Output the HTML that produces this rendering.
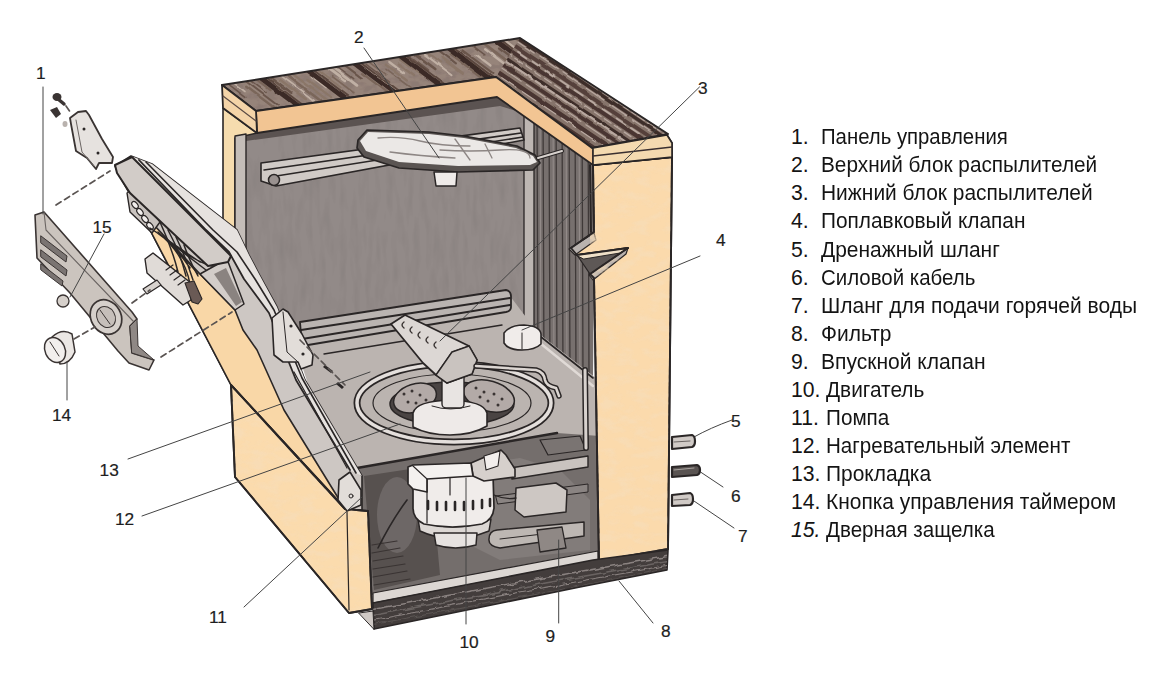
<!DOCTYPE html>
<html><head><meta charset="utf-8">
<style>
html,body{margin:0;padding:0;background:#fff;width:1170px;height:677px;overflow:hidden;position:relative}
svg{position:absolute;left:0;top:0}
.ln{position:absolute;font-family:"Liberation Sans",sans-serif;font-size:21.2px;line-height:28px;height:28px;color:#141414;white-space:nowrap;transform-origin:0 0}
</style></head><body>
<svg width="1170" height="677" viewBox="0 0 1170 677">
<defs>
<clipPath id="cpWood"><polygon points="222,85 520,38 668,134 592,148 496,77 256,111"/></clipPath>
<clipPath id="cpWoodL"><polygon points="222,85 520,38 532,46 496,77 256,111"/></clipPath>
<clipPath id="cpWoodR"><polygon points="520,38 668,134 592,148 496,77"/></clipPath>
<filter id="fBlot" x="0" y="0" width="100%" height="100%">
<feTurbulence type="fractalNoise" baseFrequency="0.09 0.14" numOctaves="3" seed="11"/>
<feColorMatrix type="matrix" values="0 0 0 0 0.26  0 0 0 0 0.19  0 0 0 0 0.17  4.5 0 0 0 -1.9"/>
</filter>
<clipPath id="cpRW"><polygon points="528,112 596,162 594,232 571,248 578,256 594,278 593,378 538,333 528,324"/></clipPath>
<clipPath id="cpBase"><polygon points="373,604 593,561 667,551 667,569 580,586 374,628"/></clipPath>
<filter id="fRough" x="-10%" y="-10%" width="120%" height="120%">
<feTurbulence type="fractalNoise" baseFrequency="0.12" numOctaves="2" seed="3" result="t"/>
<feDisplacementMap in="SourceGraphic" in2="t" scale="5" xChannelSelector="R" yChannelSelector="G"/>
</filter>
<filter id="fRough2" x="-10%" y="-10%" width="120%" height="120%">
<feTurbulence type="fractalNoise" baseFrequency="0.06" numOctaves="2" seed="5" result="t"/>
<feDisplacementMap in="SourceGraphic" in2="t" scale="3" xChannelSelector="R" yChannelSelector="G"/>
</filter>
<filter id="fNoise" x="0" y="0" width="100%" height="100%">
<feTurbulence type="fractalNoise" baseFrequency="0.15 0.03" numOctaves="2" seed="9"/>
<feColorMatrix type="matrix" values="0 0 0 0 0  0 0 0 0 0  0 0 0 0 0  0 0 0 0.6 -0.25"/>
</filter>
<filter id="fPeach" x="0" y="0" width="100%" height="100%">
<feTurbulence type="fractalNoise" baseFrequency="0.06 0.12" numOctaves="3" seed="21"/>
<feColorMatrix type="matrix" values="0 0 0 0 0.93  0 0 0 0 0.72  0 0 0 0 0.48  3.6 0 0 0 -1.6"/>
</filter>
<clipPath id="cpPanelR"><polygon points="593,165 672,157 668,549 599,561 594,279 589,274 628,248 576,255 569,249 594,232"/></clipPath>
<clipPath id="cpPeachL"><polygon points="231,385 235,477 349,613 372,609 368,511 345,509"/></clipPath>
</defs>
<g stroke-linejoin="round" stroke-linecap="round">

<!-- ===== interior back wall ===== -->
<polygon points="244,116 500,100 530,116 530,330 300,345 244,360" fill="#928a88"/>
<g opacity="0.18"><rect x="244" y="100" width="290" height="260" filter="url(#fNoise)"/></g>
<!-- back wall shadow under top strip -->
<polygon points="246,133 497,97 520,112 500,106 246,141" fill="#5b5351"/>
<!-- left frame strip -->
<polygon points="223,108 257,133 235,138 235,262 223,262" fill="#f6dcae" stroke="#2a2626" stroke-width="1.6"/>
<polygon points="235,136 246,134 246,270 235,266" fill="#c4bdb8" stroke="#2a2626" stroke-width="1.4"/>

<!-- ===== right inner wall (striped) ===== -->
<polygon points="526,112 596,162 594,232 571,248 578,256 594,278 593,378 538,333 526,324" fill="#77706e"/>
<g clip-path="url(#cpRW)" stroke="#3f3938" stroke-width="1.3">
<line x1="537" y1="100" x2="538" y2="380"/><line x1="543" y1="100" x2="544" y2="380"/>
<line x1="549" y1="100" x2="550" y2="380"/><line x1="556" y1="100" x2="557" y2="380"/>
<line x1="562" y1="100" x2="563" y2="380"/><line x1="569" y1="100" x2="570" y2="380"/>
<line x1="575" y1="100" x2="576" y2="380"/><line x1="582" y1="100" x2="583" y2="380"/>
<line x1="588" y1="100" x2="589" y2="380"/>
</g>
<g clip-path="url(#cpRW)" stroke="#938b89" stroke-width="1.1">
<line x1="540" y1="100" x2="541" y2="380"/><line x1="553" y1="100" x2="554" y2="380"/>
<line x1="566" y1="100" x2="567" y2="380"/><line x1="579" y1="100" x2="580" y2="380"/>
</g>
<polyline points="590,165 591,232" fill="none" stroke="#2a2626" stroke-width="2"/>
<!-- front pillar light strip -->
<polygon points="524,112 534,118 534,328 524,322" fill="#bdb6b2" stroke="#2a2626" stroke-width="1.3"/>

<!-- ===== upper rack & spray arm ===== -->
<polygon points="261,163 520,128 524,140 276,186 261,181" fill="#d0cac6" stroke="#2a2626" stroke-width="1.6"/>
<polyline points="264,170 521,133" fill="none" stroke="#2a2626" stroke-width="1.6"/>
<polyline points="270,177 523,137" fill="none" stroke="#2a2626" stroke-width="1.6"/>
<circle cx="274" cy="180" r="5.5" fill="#9a9290" stroke="#2a2626" stroke-width="1.5"/>
<polygon points="358,140 367,130 429,132 464,136 517,146 535,155 540,163 533,170 458,172 399,168 364,157 357,148" fill="#5a5452" stroke="#2a2626" stroke-width="1.7"/>
<polygon points="360,141 368,132 429,134 464,138 516,148 533,156 537,162 530,165 458,166 399,162 366,151" fill="#ebe8e6"/>
<g fill="none" stroke="#8d8684" stroke-width="1.3">
<path d="M378,138 Q400,136 420,141 T470,146"/><path d="M440,150 Q470,152 500,150 T530,158"/><path d="M390,152 Q420,156 455,158"/><path d="M455,139 L470,160"/><path d="M485,144 L492,158"/>
</g>
<polygon points="434,172 457,172 456,186 436,186" fill="#efebe9" stroke="#2a2626" stroke-width="1.5"/>
<polyline points="538,158 562,151" fill="none" stroke="#2a2626" stroke-width="4"/>
<polyline points="538,158 562,151" fill="none" stroke="#d8d2ce" stroke-width="2"/>

<!-- ===== tub floor ===== -->
<polygon points="290,330 510,296 538,333 596,378 600,436 356,470 320,420" fill="#bbb4b0"/>
<!-- lower rack rails -->
<path d="M300,322 L506,290 Q511,291 511,296 L511,307 Q511,311 506,312 L302,346 Z" fill="#bab4b1" stroke="#2a2626" stroke-width="1.8"/>
<polyline points="301,330 510,298" fill="none" stroke="#2a2626" stroke-width="2.2"/>
<polyline points="302,339 510,305" fill="none" stroke="#2a2626" stroke-width="2.2"/>
<polyline points="324,354 502,325" fill="none" stroke="#2a2626" stroke-width="1.4"/>
<!-- right wall bottom edge -->
<polyline points="536,333 593,378" fill="none" stroke="#2a2626" stroke-width="1.6"/>
<polyline points="540,343 593,386" fill="none" stroke="#e0dad6" stroke-width="2.5"/>

<!-- ring -->
<ellipse cx="454" cy="403" rx="97" ry="39" fill="none" stroke="#2a2626" stroke-width="7"/>
<ellipse cx="454" cy="403" rx="97" ry="39" fill="none" stroke="#e4dfdc" stroke-width="3.5"/>
<ellipse cx="452" cy="403" rx="79" ry="29" fill="none" stroke="#2a2626" stroke-width="1.2"/>
<!-- sump -->
<ellipse cx="452" cy="404" rx="62" ry="22" fill="#4a4443" stroke="#2a2626" stroke-width="1.5"/>
<!-- spray arm blobs -->
<ellipse cx="415" cy="398" rx="22" ry="14" transform="rotate(-18 415 398)" fill="#b3aaa7" stroke="#2a2626" stroke-width="1.5"/>
<ellipse cx="489" cy="396" rx="26" ry="15" transform="rotate(16 489 396)" fill="#b3aaa7" stroke="#2a2626" stroke-width="1.5"/>
<g fill="#3a3433"><circle cx="404" cy="394" r="1.5"/><circle cx="412" cy="391" r="1.5"/><circle cx="420" cy="395" r="1.5"/><circle cx="408" cy="402" r="1.5"/><circle cx="416" cy="403" r="1.5"/><circle cx="426" cy="400" r="1.5"/><circle cx="476" cy="388" r="1.5"/><circle cx="484" cy="392" r="1.5"/><circle cx="494" cy="394" r="1.5"/><circle cx="502" cy="399" r="1.5"/><circle cx="488" cy="401" r="1.5"/><circle cx="498" cy="405" r="1.5"/><circle cx="480" cy="397" r="1.5"/></g>
<!-- center cylinder -->
<path d="M413,413 Q416,401 450,400 Q484,401 487,413 L487,426 Q472,435 450,435 Q428,435 413,427 Z" fill="#eeeae8" stroke="#2a2626" stroke-width="1.6"/>
<path d="M432,406 Q450,412 470,406" fill="none" stroke="#2a2626" stroke-width="1"/>
<rect x="442" y="371" width="22" height="37" rx="4" fill="#e8e4e2" stroke="#2a2626" stroke-width="1.4"/>
<!-- spray head cone (3) -->
<polygon points="391,324 405,315 469,346 477,360 472,374 447,383 436,375 423,363" fill="#dcd7d4" stroke="#2a2626" stroke-width="1.8"/>
<polyline points="469,346 452,352 436,375" fill="none" stroke="#2a2626" stroke-width="1.3"/>
<polygon points="452,352 469,346 477,360 472,374 447,383 436,375" fill="#c9c3bf" stroke="#2a2626" stroke-width="1.4"/>
<g fill="none" stroke="#3a3433" stroke-width="1.4"><path d="M404,322 q-4,3 0,6"/><path d="M412,327 q-4,3 0,6"/><path d="M420,332 q-4,3 0,6"/><path d="M428,337 q-4,3 0,6"/><path d="M436,342 q-4,3 0,6"/></g>
<!-- float valve 4 -->
<path d="M504,333 Q510,325 524,325 Q540,326 541,334 L541,344 Q535,350 522,350 Q508,350 504,343 Z" fill="#f0ecea" stroke="#2a2626" stroke-width="1.6"/>
<polyline points="522,333 522,349" fill="none" stroke="#2a2626" stroke-width="1"/>
<!-- hose J -->
<path d="M476,366 L536,370 Q544,372 545,380 Q546,386 556,388 L559,396" fill="none" stroke="#2a2626" stroke-width="5.5"/>
<path d="M476,366 L536,370 Q544,372 545,380 Q546,386 556,388 L559,396" fill="none" stroke="#dcd6d2" stroke-width="2.5"/>

<!-- ===== lower compartment ===== -->
<polygon points="357,468 557,433 600,436 600,560 372,595" fill="#746e6c"/>
<polygon points="364,476 430,466 440,575 374,590" fill="#57514f"/>
<ellipse cx="397" cy="515" rx="20" ry="38" fill="#736d6b" opacity="0.8"/>
<g stroke="#3a3433" stroke-width="1.2"><path d="M372,545 l25,-4 M372,553 l28,-5 M373,561 l30,-5 M373,569 l32,-5 M373,577 l34,-6 M374,585 l36,-6"/></g>
<path d="M407,500 Q392,520 378,548" fill="none" stroke="#2a2626" stroke-width="1.6"/>
<polygon points="440,470 520,458 560,470 590,500 590,550 500,560 460,540" fill="#827c7a"/>
<polyline points="357,468 557,433" fill="none" stroke="#2a2626" stroke-width="2.5"/>
<!-- frame bars -->
<polygon points="540,440 580,436 586,450 548,455" fill="#7a7472" stroke="#2a2626" stroke-width="1.2"/>
<polygon points="510,468 588,456 588,467 512,479" fill="#c9c3bf" stroke="#2a2626" stroke-width="1.4"/>
<polygon points="496,496 588,484 588,492 498,504" fill="#8a8482" stroke="#2a2626" stroke-width="1"/>
<path d="M585,370 L586,448" fill="none" stroke="#2a2626" stroke-width="6"/>
<path d="M585,370 L586,448" fill="none" stroke="#d8d2ce" stroke-width="3"/>
<!-- motor 10 -->
<path d="M418,519 Q452,535 491,519 L489,531 Q452,546 420,531 Z" fill="#dcd7d4" stroke="#2a2626" stroke-width="1.5"/>
<path d="M434,533 L477,533 L476,545 Q455,551 436,545 Z" fill="#e6e2e0" stroke="#2a2626" stroke-width="1.5"/>
<path d="M413,476 L493,474 L494,508 Q493,520 482,524 Q452,530 424,524 Q413,519 413,508 Z" fill="#f0ecea" stroke="#2a2626" stroke-width="1.7"/>
<g stroke="#2a2626" stroke-width="2.6" fill="none"><path d="M428,501 v8 M437,502 v8 M446,502 v8 M455,502 v8 M464,502 v8 M473,501 v8 M482,500 v8 M490,499 v7"/></g>
<path d="M427,478 L427,523 M450,476 L450,495" fill="none" stroke="#2a2626" stroke-width="1.2"/>
<polygon points="471,463 501,450 506,455 515,469 515,477 484,481 473,476" fill="#d6d0cc" stroke="#2a2626" stroke-width="1.6"/>
<polygon points="484,456 500,451 498,466 486,470" fill="#f2eeec" stroke="#2a2626" stroke-width="1.1"/>
<polygon points="408,467 413,465 471,463 473,476 427,479 427,492 413,489 408,484" fill="#f4f1ef" stroke="#2a2626" stroke-width="1.7"/>
<path d="M413,466 L427,479" fill="none" stroke="#2a2626" stroke-width="1.1"/>
<!-- pump box -->
<polygon points="516,488 556,483 567,490 566,512 524,517 515,510" fill="#cdc7c3" stroke="#2a2626" stroke-width="1.5"/>
<path d="M494,495 Q505,500 516,498" fill="none" stroke="#2a2626" stroke-width="1.3"/>
<!-- valve pipe 9 -->
<path d="M497,530 L584,522 L584,536 L500,548 Q488,546 489,539 Q489,531 497,530 Z" fill="#bdb7b3" stroke="#2a2626" stroke-width="1.5"/>
<polyline points="500,539 560,532" fill="none" stroke="#2a2626" stroke-width="1"/>
<polygon points="537,530 562,527 566,548 540,552" fill="#8f8885" stroke="#2a2626" stroke-width="1.3"/>
<!-- light strip -->
<polygon points="373,593 598,551 598,560 373,603" fill="#dcd7d3" stroke="#2a2626" stroke-width="1.2"/>

<!-- ===== right side panel ===== -->
<polygon points="593,165 672,157 668,549 599,561 594,278 590,274 628,248 577,255 571,248 594,232" fill="#fbdaac" stroke="#2a2626" stroke-width="1.9"/>
<polygon points="577,255 628,248 590,274" fill="#5e5856" stroke="#2a2626" stroke-width="1.3"/>
<polygon points="594,233 569,249 575,255 596,240" fill="#b9b2ae" stroke="#2a2626" stroke-width="1.2"/>
<polygon points="576,255 628,248 620,253 584,259" fill="#efe0c8" stroke="#2a2626" stroke-width="1"/>
<polygon points="628,248 589,275 593,280 626,254" fill="#b9b2ae" stroke="#2a2626" stroke-width="1.2"/>
<g clip-path="url(#cpPanelR)" opacity="0.7"><rect x="590" y="150" width="90" height="420" filter="url(#fPeach)"/></g>
<polygon points="593,165 672,157 668,549 599,561 594,278 590,274 628,248 577,255 571,248 594,232" fill="none" stroke="#2a2626" stroke-width="1.9"/>

<!-- ===== base ===== -->
<polygon points="373,603 593,560 668,550 667,570 580,587 374,629" fill="#433d3c" stroke="#2a2626" stroke-width="1.6"/>
<g clip-path="url(#cpBase)" fill="none" filter="url(#fRough)">
<polyline points="370,610 520,582 670,556" stroke="#8a8280" stroke-width="1.4"/>
<polyline points="370,616 540,584 670,561" stroke="#6a6462" stroke-width="1.6"/>
<polyline points="370,621 520,592 670,565" stroke="#8a8280" stroke-width="1.2"/>
<polyline points="370,625 560,590 670,568" stroke="#5a5452" stroke-width="1.2"/>
</g>
<polygon points="359,613 373,611 374,629" fill="#cfc9c5" stroke="#2a2626" stroke-width="1"/>

<!-- ===== wood top ===== -->
<polygon points="222,85 520,38 668,134 592,148 496,77 256,111" fill="#9a8880"/>
<g clip-path="url(#cpWoodL)">
<rect x="200" y="30" width="330" height="90" fill="#96847a"/>
<rect x="200" y="30" width="330" height="90" filter="url(#fBlot)" opacity="0.85"/>
<g filter="url(#fRough2)">
<line x1="220.4" y1="83.8" x2="240.2" y2="98.7" stroke="#7a665a" stroke-width="1.6"/>
<line x1="225.1" y1="81.7" x2="245.8" y2="97.3" stroke="#6a564c" stroke-width="1.6"/>
<line x1="231.3" y1="81.2" x2="245.0" y2="91.5" stroke="#c0b0a4" stroke-width="1.6"/>
<line x1="246.2" y1="86.7" x2="280.9" y2="112.8" stroke="#7a665a" stroke-width="2.4"/>
<line x1="242.5" y1="78.8" x2="277.8" y2="105.5" stroke="#6a564c" stroke-width="1.9"/>
<line x1="251.2" y1="81.2" x2="266.0" y2="92.4" stroke="#6a564c" stroke-width="1.7"/>
<line x1="254.2" y1="77.7" x2="270.6" y2="90.1" stroke="#7a665a" stroke-width="2.3"/>
<line x1="267.6" y1="81.9" x2="291.4" y2="99.9" stroke="#8a7668" stroke-width="2.2"/>
<line x1="270.7" y1="77.3" x2="291.4" y2="92.8" stroke="#6a564c" stroke-width="2.5"/>
<line x1="280.1" y1="79.8" x2="305.9" y2="99.2" stroke="#8a7668" stroke-width="2.6"/>
<line x1="278.8" y1="74.1" x2="314.2" y2="100.8" stroke="#c0b0a4" stroke-width="1.7"/>
<line x1="289.0" y1="76.9" x2="323.3" y2="102.8" stroke="#7a665a" stroke-width="2.6"/>
<line x1="293.6" y1="74.6" x2="326.5" y2="99.5" stroke="#8a7668" stroke-width="2.4"/>
<line x1="308.3" y1="80.0" x2="331.2" y2="97.2" stroke="#8a7668" stroke-width="2.2"/>
<line x1="312.7" y1="77.2" x2="326.2" y2="87.4" stroke="#c0b0a4" stroke-width="1.9"/>
<line x1="307.4" y1="68.2" x2="335.4" y2="89.3" stroke="#c0b0a4" stroke-width="2.0"/>
<line x1="317.0" y1="69.5" x2="340.8" y2="87.5" stroke="#8a7668" stroke-width="1.7"/>
<line x1="332.4" y1="76.6" x2="353.8" y2="92.7" stroke="#7a665a" stroke-width="1.7"/>
<line x1="326.3" y1="66.9" x2="344.9" y2="80.9" stroke="#c0b0a4" stroke-width="2.8"/>
<line x1="335.0" y1="68.7" x2="356.9" y2="85.3" stroke="#c0b0a4" stroke-width="2.9"/>
<line x1="337.5" y1="66.5" x2="353.7" y2="78.7" stroke="#6a564c" stroke-width="1.5"/>
<line x1="345.7" y1="65.9" x2="362.0" y2="78.2" stroke="#6a564c" stroke-width="2.1"/>
<line x1="361.9" y1="73.1" x2="387.4" y2="92.4" stroke="#7a665a" stroke-width="2.2"/>
<line x1="365.0" y1="68.7" x2="399.8" y2="94.9" stroke="#c0b0a4" stroke-width="2.1"/>
<line x1="366.1" y1="64.4" x2="389.6" y2="82.1" stroke="#6a564c" stroke-width="1.6"/>
<line x1="370.0" y1="62.9" x2="385.8" y2="74.9" stroke="#7a665a" stroke-width="1.7"/>
<line x1="386.0" y1="69.3" x2="410.8" y2="88.0" stroke="#7a665a" stroke-width="1.6"/>
<line x1="385.8" y1="64.7" x2="406.8" y2="80.5" stroke="#8a7668" stroke-width="2.4"/>
<line x1="389.3" y1="62.0" x2="404.1" y2="73.1" stroke="#c0b0a4" stroke-width="2.2"/>
<line x1="398.7" y1="64.3" x2="414.2" y2="76.0" stroke="#8a7668" stroke-width="2.2"/>
<line x1="396.8" y1="56.7" x2="421.2" y2="75.1" stroke="#8a7668" stroke-width="1.7"/>
<line x1="408.1" y1="59.6" x2="420.8" y2="69.2" stroke="#7a665a" stroke-width="2.5"/>
<line x1="407.4" y1="54.5" x2="428.2" y2="70.1" stroke="#6a564c" stroke-width="2.3"/>
<line x1="415.4" y1="54.0" x2="435.3" y2="69.0" stroke="#6a564c" stroke-width="2.7"/>
<line x1="422.8" y1="52.9" x2="452.5" y2="75.3" stroke="#c0b0a4" stroke-width="2.0"/>
<line x1="427.7" y1="52.9" x2="440.4" y2="62.5" stroke="#8a7668" stroke-width="1.8"/>
<line x1="442.6" y1="58.3" x2="462.8" y2="73.5" stroke="#8a7668" stroke-width="2.9"/>
<line x1="438.8" y1="50.4" x2="456.0" y2="63.4" stroke="#6a564c" stroke-width="2.0"/>
<line x1="450.8" y1="54.1" x2="486.4" y2="80.9" stroke="#7a665a" stroke-width="2.2"/>
<line x1="449.0" y1="46.7" x2="480.2" y2="70.2" stroke="#7a665a" stroke-width="2.9"/>
<line x1="462.4" y1="50.3" x2="492.4" y2="72.9" stroke="#6a564c" stroke-width="2.2"/>
<line x1="476.5" y1="54.9" x2="490.5" y2="65.5" stroke="#c0b0a4" stroke-width="2.2"/>
<line x1="470.9" y1="44.4" x2="484.9" y2="54.9" stroke="#6a564c" stroke-width="1.5"/>
<line x1="485.2" y1="49.3" x2="508.3" y2="66.8" stroke="#c0b0a4" stroke-width="2.5"/>
<line x1="482.2" y1="42.2" x2="507.3" y2="61.1" stroke="#7a665a" stroke-width="2.7"/>
<line x1="499.0" y1="48.5" x2="513.4" y2="59.4" stroke="#6a564c" stroke-width="2.2"/>
<line x1="497.9" y1="40.8" x2="529.6" y2="64.8" stroke="#8a7668" stroke-width="1.8"/>
<line x1="505.7" y1="41.3" x2="536.0" y2="64.1" stroke="#c0b0a4" stroke-width="2.8"/>
<line x1="519.1" y1="47.5" x2="548.8" y2="69.9" stroke="#c0b0a4" stroke-width="2.7"/>
<line x1="514.7" y1="37.3" x2="529.8" y2="48.7" stroke="#7a665a" stroke-width="2.8"/>
<line x1="531.7" y1="43.7" x2="558.3" y2="63.7" stroke="#6a564c" stroke-width="1.8"/>
<line x1="254.0" y1="72.7" x2="317.9" y2="120.8" stroke="#3a2a25" stroke-width="5.1"/>
<line x1="260.0" y1="72.7" x2="323.9" y2="120.8" stroke="#5a463e" stroke-width="2"/>
<line x1="301.0" y1="65.2" x2="364.9" y2="113.4" stroke="#3a2a25" stroke-width="4.8"/>
<line x1="307.0" y1="65.2" x2="370.9" y2="113.4" stroke="#5a463e" stroke-width="2"/>
<line x1="348.0" y1="57.8" x2="411.9" y2="106.0" stroke="#3a2a25" stroke-width="4.5"/>
<line x1="354.0" y1="57.8" x2="417.9" y2="106.0" stroke="#5a463e" stroke-width="2"/>
<line x1="394.0" y1="50.5" x2="457.9" y2="98.7" stroke="#3a2a25" stroke-width="4.8"/>
<line x1="400.0" y1="50.5" x2="463.9" y2="98.7" stroke="#5a463e" stroke-width="2"/>
<line x1="442.0" y1="43.0" x2="505.9" y2="91.1" stroke="#3a2a25" stroke-width="4.8"/>
<line x1="448.0" y1="43.0" x2="511.9" y2="91.1" stroke="#5a463e" stroke-width="2"/>
<line x1="489.0" y1="35.5" x2="552.9" y2="83.7" stroke="#3a2a25" stroke-width="5.2"/>
<line x1="495.0" y1="35.5" x2="558.9" y2="83.7" stroke="#5a463e" stroke-width="2"/>
</g></g>
<g clip-path="url(#cpWoodR)">
<rect x="480" y="30" width="200" height="130" fill="#86746b"/>
<g filter="url(#fRough2)">
<line x1="468.9" y1="-88.2" x2="800.5" y2="135.5" stroke="#54403a" stroke-width="3.0"/>
<line x1="467.5" y1="-86.0" x2="799.1" y2="137.7" stroke="#b8a8a0" stroke-width="1.2" stroke-dasharray="9,4"/>
<line x1="464.6" y1="-81.7" x2="796.2" y2="142.0" stroke="#3e2d29" stroke-width="3.8"/>
<line x1="462.8" y1="-79.1" x2="794.4" y2="144.6" stroke="#b8a8a0" stroke-width="1.7" stroke-dasharray="24,6"/>
<line x1="460.0" y1="-74.9" x2="791.6" y2="148.8" stroke="#54403a" stroke-width="3.6"/>
<line x1="457.9" y1="-71.8" x2="789.5" y2="151.9" stroke="#b8a8a0" stroke-width="1.6" stroke-dasharray="15,7"/>
<line x1="455.1" y1="-67.6" x2="786.7" y2="156.1" stroke="#3e2d29" stroke-width="4.3"/>
<line x1="453.0" y1="-64.5" x2="784.6" y2="159.2" stroke="#b8a8a0" stroke-width="1.2" stroke-dasharray="11,9"/>
<line x1="450.8" y1="-61.3" x2="782.4" y2="162.4" stroke="#3e2d29" stroke-width="2.9"/>
<line x1="449.0" y1="-58.7" x2="780.7" y2="165.0" stroke="#b8a8a0" stroke-width="1.3" stroke-dasharray="17,4"/>
<line x1="445.9" y1="-54.0" x2="777.5" y2="169.6" stroke="#54403a" stroke-width="3.1"/>
<line x1="444.0" y1="-51.2" x2="775.6" y2="172.5" stroke="#b8a8a0" stroke-width="1.4" stroke-dasharray="16,5"/>
<line x1="440.9" y1="-46.6" x2="772.5" y2="177.0" stroke="#3e2d29" stroke-width="3.2"/>
<line x1="439.2" y1="-44.1" x2="770.8" y2="179.6" stroke="#b8a8a0" stroke-width="1.6" stroke-dasharray="29,6"/>
<line x1="437.1" y1="-40.9" x2="768.7" y2="182.8" stroke="#54403a" stroke-width="3.5"/>
<line x1="435.3" y1="-38.3" x2="766.9" y2="185.3" stroke="#b8a8a0" stroke-width="1.5" stroke-dasharray="19,8"/>
<line x1="433.3" y1="-35.3" x2="764.9" y2="188.3" stroke="#4a3631" stroke-width="3.4"/>
<line x1="431.4" y1="-32.6" x2="763.1" y2="191.1" stroke="#b8a8a0" stroke-width="1.5" stroke-dasharray="8,9"/>
<line x1="429.2" y1="-29.3" x2="760.8" y2="194.4" stroke="#54403a" stroke-width="3.9"/>
<line x1="427.0" y1="-26.0" x2="758.6" y2="197.7" stroke="#b8a8a0" stroke-width="1.1" stroke-dasharray="15,4"/>
<line x1="425.5" y1="-23.7" x2="757.1" y2="200.0" stroke="#3e2d29" stroke-width="3.3"/>
<line x1="423.8" y1="-21.3" x2="755.4" y2="202.4" stroke="#b8a8a0" stroke-width="1.2" stroke-dasharray="21,7"/>
<line x1="421.2" y1="-17.5" x2="752.9" y2="206.2" stroke="#54403a" stroke-width="3.7"/>
<line x1="419.4" y1="-14.7" x2="751.0" y2="209.0" stroke="#b8a8a0" stroke-width="1.8" stroke-dasharray="10,7"/>
<line x1="417.5" y1="-12.0" x2="749.1" y2="211.7" stroke="#4a3631" stroke-width="4.0"/>
<line x1="415.4" y1="-8.8" x2="747.0" y2="214.9" stroke="#b8a8a0" stroke-width="1.3" stroke-dasharray="8,4"/>
<line x1="412.8" y1="-4.9" x2="744.4" y2="218.8" stroke="#3e2d29" stroke-width="2.9"/>
<line x1="411.3" y1="-2.8" x2="742.9" y2="220.9" stroke="#b8a8a0" stroke-width="2.0" stroke-dasharray="22,3"/>
<line x1="408.7" y1="1.2" x2="740.3" y2="224.9" stroke="#4a3631" stroke-width="3.7"/>
<line x1="406.8" y1="4.0" x2="738.4" y2="227.7" stroke="#b8a8a0" stroke-width="1.1" stroke-dasharray="30,6"/>
<line x1="403.7" y1="8.5" x2="735.3" y2="232.2" stroke="#4a3631" stroke-width="4.4"/>
<line x1="402.3" y1="10.6" x2="733.9" y2="234.3" stroke="#b8a8a0" stroke-width="1.2" stroke-dasharray="17,7"/>
<line x1="399.3" y1="15.0" x2="731.0" y2="238.7" stroke="#4a3631" stroke-width="3.1"/>
<line x1="397.5" y1="17.7" x2="729.1" y2="241.4" stroke="#b8a8a0" stroke-width="1.2" stroke-dasharray="19,3"/>
<line x1="394.3" y1="22.4" x2="725.9" y2="246.1" stroke="#3e2d29" stroke-width="2.9"/>
<line x1="392.3" y1="25.4" x2="723.9" y2="249.1" stroke="#b8a8a0" stroke-width="1.7" stroke-dasharray="14,10"/>
<line x1="390.3" y1="28.3" x2="722.0" y2="252.0" stroke="#54403a" stroke-width="3.6"/>
<line x1="388.3" y1="31.4" x2="719.9" y2="255.1" stroke="#b8a8a0" stroke-width="1.5" stroke-dasharray="23,9"/>
<line x1="385.4" y1="35.7" x2="717.0" y2="259.4" stroke="#3e2d29" stroke-width="3.3"/>
<line x1="383.1" y1="39.0" x2="714.7" y2="262.7" stroke="#b8a8a0" stroke-width="1.4" stroke-dasharray="30,5"/>
<line x1="381.2" y1="42.0" x2="712.8" y2="265.6" stroke="#3e2d29" stroke-width="3.4"/>
<line x1="379.1" y1="45.1" x2="710.7" y2="268.8" stroke="#b8a8a0" stroke-width="1.0" stroke-dasharray="28,7"/>
</g></g>
<polygon points="222,85 520,38 668,134 592,148 496,77 256,111" fill="none" stroke="#2a2626" stroke-width="2"/>
<!-- top peach strip -->
<polygon points="256,111 496,77 592,148 667,135 672,143 672,157 593,165 497,97 257,133" fill="#f2c593" stroke="#2a2626" stroke-width="1.8"/>
<polyline points="593,150 593,165" fill="none" stroke="#2a2626" stroke-width="1.5"/>
<polygon points="593,148 667,135 672,143 672,157 593,165" fill="#f4dab0" stroke="#2a2626" stroke-width="1.6"/>
<polyline points="593,156 672,147" fill="none" stroke="#3a3030" stroke-width="1.4"/>
<polygon points="222,85 256,111 257,133 223,108" fill="#f4d4a8" stroke="#2a2626" stroke-width="1.8"/>
<polyline points="223,96 256,121" fill="none" stroke="#5a4a44" stroke-width="1.2"/>

<!-- ===== door ===== -->
<polygon points="131,156 152,164 237,230 249,255 259,274 277,307 305,380 362,476 362,510 345,510 231,385 150,230 118,173 115,166" fill="#cdc7c3" stroke="#2a2626" stroke-width="1.6"/>
<!-- door frame lines -->
<polygon points="131,156 152,164 237,230 249,255 259,274 277,307 305,380 362,476 350,470 296,380 269,313 244,279 229,252 206,230" fill="#e6e2df"/>
<polyline points="139,160 206,230 229,252 244,279 269,313 296,380 350,470" fill="none" stroke="#2a2626" stroke-width="1.8"/>
<polyline points="146,162 213,230 237,252 255,279 274,310 302,378 356,473" fill="none" stroke="#2a2626" stroke-width="1.6"/>
<polyline points="294,372 347,468" fill="none" stroke="#2a2626" stroke-width="1.2"/>
<!-- door side peach band -->
<polygon points="138,208 200,274 235,310 243,330 257,350 284,410 345,509 231,385 150,230" fill="#f9d7a7" stroke="#2a2626" stroke-width="1.6"/>
<!-- door under-bar box -->
<polygon points="200,274 227,259 244,304 235,310" fill="#d3cdc9" stroke="#2a2626" stroke-width="1.5"/>
<polygon points="214,274 226,268 242,302 236,306" fill="#8a8380"/>
<!-- lower peach block -->
<polygon points="231,385 235,477 349,613 372,609 368,511 345,509" fill="#fbdbad" stroke="#2a2626" stroke-width="1.9"/>
<g clip-path="url(#cpPeachL)" opacity="0.7"><rect x="225" y="380" width="150" height="240" filter="url(#fPeach)"/></g>
<polygon points="231,385 235,477 349,613 372,609 368,511 345,509" fill="none" stroke="#2a2626" stroke-width="1.9"/>
<polyline points="231,385 346,509" fill="none" stroke="#2a2626" stroke-width="1.7"/>
<polyline points="347,512 349,610" fill="none" stroke="#2a2626" stroke-width="1.2"/>
<!-- dashes on peach -->

<!-- hinge brackets -->
<polygon points="272,318 283,309 288,312 302,334 313,355 312,365 301,369 298,362 283,362 274,355" fill="#e2ddd9" stroke="#2a2626" stroke-width="1.6"/>
<polyline points="283,312 287,352 298,362" fill="none" stroke="#2a2626" stroke-width="1"/>
<circle cx="291" cy="326" r="1.6" fill="#2a2626"/><circle cx="303" cy="354" r="1.6" fill="#2a2626"/>
<polygon points="339,480 350,472 361,490 361,505 347,511 338,500" fill="#e2ddd9" stroke="#2a2626" stroke-width="1.6"/>
<circle cx="351" cy="496" r="2" fill="none" stroke="#2a2626" stroke-width="1"/>
<!-- small screws on floor near door -->
<g fill="#2a2626"><path d="M325,365 l8,6 l-2,2 l-8,-6z"/><path d="M338,382 l6,5 l-2,2 l-6,-5z"/></g>
<!-- ribbed part & latch & wires -->
<polygon points="127,193 135,188 160,222 152,233 130,212" fill="#c9c3bf" stroke="#2a2626" stroke-width="1.4"/>
<g fill="#f2eeec" stroke="#2a2626" stroke-width="1.2"><ellipse cx="135" cy="205" rx="2.5" ry="4" transform="rotate(-40 135 205)"/><ellipse cx="140" cy="212" rx="2.5" ry="4" transform="rotate(-40 140 212)"/><ellipse cx="145" cy="219" rx="2.5" ry="4" transform="rotate(-40 145 219)"/><ellipse cx="150" cy="226" rx="2.5" ry="4" transform="rotate(-40 150 226)"/></g>
<path d="M150,228 Q175,245 200,262 M156,232 Q180,250 206,270 M162,236 Q185,258 198,274 M170,244 Q186,262 190,284 M176,246 Q196,262 212,266" fill="none" stroke="#2a2626" stroke-width="1.4"/>
<polygon points="145,259 153,253 191,283 191,300 183,305 147,273" fill="#e0dbd7" stroke="#2a2626" stroke-width="1.4"/>
<g stroke="#2a2626" stroke-width="1.2" fill="none"><path d="M166,270 l7,-5 M170,275 l7,-5 M174,280 l7,-5 M178,285 l7,-5"/></g>
<path d="M143,289 l14,-9 l4,5 l-14,9 z" fill="#d8d3cf" stroke="#2a2626" stroke-width="1.2"/>
<path d="M185,283 l9,-2 l8,18 l-4,5 l-6,-2 z" fill="#6a5a55" stroke="#2a2626" stroke-width="1.1"/>

<!-- control bar -->
<polygon points="115,165 132,157 231,256 228,262 208,266 130,193 117,173" fill="#d2ccc8" stroke="#2a2626" stroke-width="2"/>
<path d="M160,222 Q172,248 178,272 M168,230 Q180,252 186,276 M176,237 Q186,258 193,280 M184,245 Q190,262 198,276 M158,232 Q175,246 190,268" fill="none" stroke="#2a2626" stroke-width="1.5"/>
<!-- ===== exploded parts ===== -->
<!-- front panel 1 -->
<polygon points="35,215 44,212 132,312 137,319 130,326 132,353 154,360 149,370 129,363 118,351 70,293 37,258" fill="#cbc4be" stroke="#3a3433" stroke-width="1.6"/>
<polyline points="44,212 46,230 134,322" fill="none" stroke="#6a6462" stroke-width="1.1"/>
<polygon points="130,326 137,319 138,346 154,360 132,353" fill="#8f8885" stroke="#3a3433" stroke-width="1"/>
<g fill="#7a7472" stroke="#3a3433" stroke-width="1"><path d="M41,236 l26,20 l-1,6 l-25,-19 z"/><path d="M41,250 l26,20 l-1,6 l-25,-19 z"/><path d="M41,264 l22,17 l-1,5 l-21,-16 z"/></g>
<ellipse cx="106" cy="317" rx="15" ry="18" transform="rotate(-30 106 317)" fill="#d6d0cb" stroke="#3a3433" stroke-width="1.7"/>
<ellipse cx="106" cy="317" rx="9" ry="11" transform="rotate(-30 106 317)" fill="#c6bfba" stroke="#3a3433" stroke-width="1"/>
<path d="M100,310 l10,14" stroke="#3a3433" stroke-width="1"/>
<ellipse cx="63" cy="301" rx="6" ry="6" fill="#d6d0cb" stroke="#3a3433" stroke-width="1.3"/>
<!-- knob 14 -->
<path d="M52,337 Q62,328 72,334 L75,352 Q70,364 60,364 Z" fill="#ebe7e4" stroke="#3a3433" stroke-width="1.5"/>
<ellipse cx="55" cy="350" rx="10" ry="13" transform="rotate(-25 55 350)" fill="#f2efed" stroke="#3a3433" stroke-width="1.5"/>
<path d="M50,342 l9,14" stroke="#3a3433" stroke-width="1"/>
<!-- bracket -->
<polygon points="70,118 78,112 86,111 89,115 102,139 113,157 112,163 99,163 96,169 87,158 76,151 71,124" fill="#e6e2df" stroke="#3a3433" stroke-width="1.8"/>
<polyline points="76,120 82,152 94,166" fill="none" stroke="#6a6462" stroke-width="1"/>
<circle cx="84" cy="129" r="1.5" fill="#2a2626"/><circle cx="98" cy="153" r="1.5" fill="#2a2626"/>
<!-- screws -->
<ellipse cx="57" cy="97" rx="4.5" ry="4" fill="#3a3433"/><path d="M58,99 L64,104" stroke="#3a3433" stroke-width="3.5"/>
<path d="M50,110 L57,107 L61,114 L56,118 Z" fill="#3a3433"/><ellipse cx="65" cy="124" rx="2.5" ry="3" fill="#b9b2ae"/>
<!-- dashes -->
<g stroke="#5a5452" stroke-width="1.7" stroke-dasharray="6,4" fill="none">
<line x1="66" y1="106" x2="71" y2="113"/>
<line x1="56" y1="205" x2="110" y2="171"/>
<line x1="74" y1="339" x2="95" y2="327"/>
<line x1="132" y1="303" x2="150" y2="290"/>
<line x1="161" y1="357" x2="232" y2="312"/>
<line x1="300" y1="340" x2="345" y2="385"/>
</g>

<!-- ===== leader lines ===== -->
<g stroke="#444" stroke-width="1" fill="none">
<line x1="43" y1="87" x2="43" y2="214"/>
<line x1="364" y1="48" x2="439" y2="158"/>
<line x1="699.5" y1="87" x2="440" y2="341"/>
<line x1="700" y1="256" x2="522" y2="330"/>
<path d="M732,420 Q710,428 694,437"/>
<line x1="723" y1="487" x2="699" y2="471"/>
<line x1="734" y1="528" x2="691" y2="499"/>
<line x1="619" y1="581" x2="653" y2="623"/>
<line x1="558.7" y1="540" x2="558.7" y2="623"/>
<line x1="466" y1="478" x2="466" y2="624"/>
<line x1="244" y1="607" x2="362" y2="497"/>
<line x1="142" y1="516" x2="400" y2="424"/>
<line x1="128" y1="459" x2="370" y2="372"/>
<line x1="67" y1="362" x2="67" y2="400"/>
<line x1="104" y1="234" x2="70" y2="297"/>
</g>
<!-- pipes 5 6 7 -->
<path d="M672,437 L692,435 Q695,436 695,441 Q695,446 692,447 L672,449 Z" fill="#d0cac6" stroke="#2a2626" stroke-width="2.2"/>
<path d="M674,442 L690,441" stroke="#6a6462" stroke-width="1"/>
<path d="M672,467 L697,465 Q700,466 700,470 Q700,474 697,475 L672,477 Z" fill="#5a5452" stroke="#2a2626" stroke-width="2.2"/>
<path d="M674,470 L694,468" stroke="#a8a29e" stroke-width="1"/>
<path d="M672,495 L690,493 Q693,494 693,499 Q693,504 690,505 L672,506 Z" fill="#d0cac6" stroke="#2a2626" stroke-width="2.2"/>
<path d="M674,500 L688,499" stroke="#6a6462" stroke-width="1"/>

<!-- ===== labels ===== -->
<g font-family="Liberation Sans, sans-serif" font-size="17.3" fill="#1e1e1e" stroke="#1e1e1e" stroke-width="0.2">
<text x="36" y="79">1</text>
<text x="354" y="42.6">2</text>
<text x="698" y="93.6">3</text>
<text x="716" y="246">4</text>
<text x="731" y="427">5</text>
<text x="731" y="501.6">6</text>
<text x="738" y="541.7">7</text>
<text x="661" y="636.5">8</text>
<text x="545.5" y="642.3">9</text>
<text x="459.5" y="647.7">10</text>
<text x="209" y="622.8">11</text>
<text x="115" y="525">12</text>
<text x="99.6" y="476">13</text>
<text x="52" y="421">14</text>
<text x="92.4" y="232.5">15</text>
</g>
</g>
</svg>

<div class="ln" style="top:123.2px;left:791px"><span>1.</span></div><div class="ln" style="top:123.2px;left:821px;transform:scaleX(0.9596)">Панель управления</div><div class="ln" style="top:151.3px;left:791px"><span>2.</span></div><div class="ln" style="top:151.3px;left:821px;transform:scaleX(0.9808)">Верхний блок распылителей</div><div class="ln" style="top:179.3px;left:791px"><span>3.</span></div><div class="ln" style="top:179.3px;left:821px;transform:scaleX(0.9885)">Нижний блок распылителей</div><div class="ln" style="top:207.4px;left:791px"><span>4.</span></div><div class="ln" style="top:207.4px;left:821px;transform:scaleX(0.9830)">Поплавковый клапан</div><div class="ln" style="top:235.5px;left:791px"><span>5.</span></div><div class="ln" style="top:235.5px;left:821px;transform:scaleX(0.9889)">Дренажный шланг</div><div class="ln" style="top:263.6px;left:791px"><span>6.</span></div><div class="ln" style="top:263.6px;left:821px;transform:scaleX(0.9648)">Силовой кабель</div><div class="ln" style="top:291.6px;left:791px"><span>7.</span></div><div class="ln" style="top:291.6px;left:821px;transform:scaleX(0.9918)">Шланг для подачи горячей воды</div><div class="ln" style="top:319.7px;left:791px"><span>8.</span></div><div class="ln" style="top:319.7px;left:821px;transform:scaleX(0.9898)">Фильтр</div><div class="ln" style="top:347.8px;left:791px"><span>9.</span></div><div class="ln" style="top:347.8px;left:821px;transform:scaleX(0.9931)">Впускной клапан</div><div class="ln" style="top:375.8px;left:791px"><span>10.</span></div><div class="ln" style="top:375.8px;left:826px;transform:scaleX(0.9836)">Двигатель</div><div class="ln" style="top:403.9px;left:791px"><span>11.</span></div><div class="ln" style="top:403.9px;left:826px;transform:scaleX(0.9770)">Помпа</div><div class="ln" style="top:432.0px;left:791px"><span>12.</span></div><div class="ln" style="top:432.0px;left:826px;transform:scaleX(0.9713)">Нагревательный элемент</div><div class="ln" style="top:460.0px;left:791px"><span>13.</span></div><div class="ln" style="top:460.0px;left:826px;transform:scaleX(0.9888)">Прокладка</div><div class="ln" style="top:488.1px;left:791px"><span>14.</span></div><div class="ln" style="top:488.1px;left:826px;transform:scaleX(0.9881)">Кнопка управления таймером</div><div class="ln" style="top:516.2px;left:791px"><span style="font-style:italic">15.</span></div><div class="ln" style="top:516.2px;left:826px;transform:scaleX(0.9721)">Дверная защелка</div>
</body></html>
